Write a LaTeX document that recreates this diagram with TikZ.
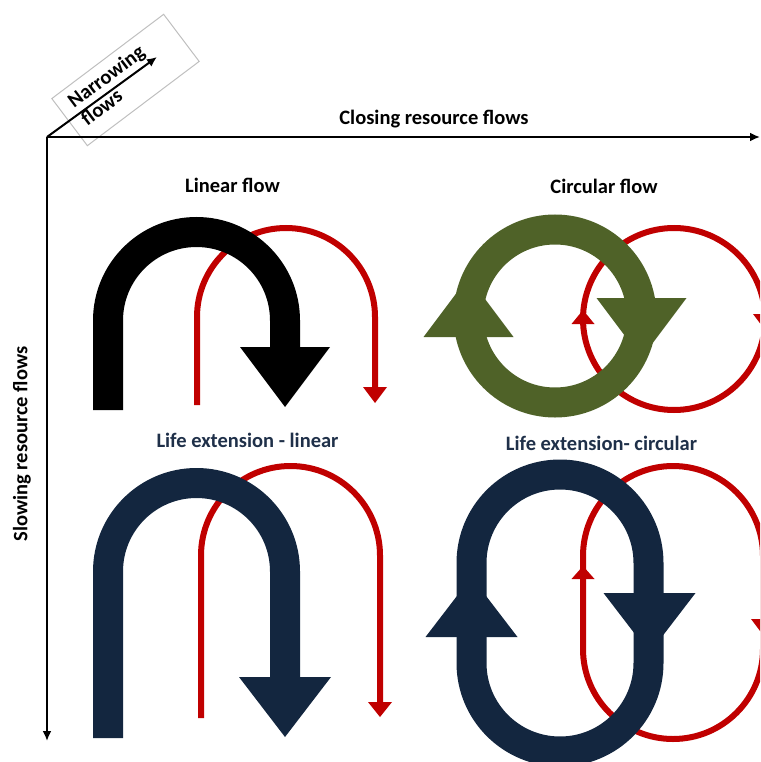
\documentclass[tikz,border=0pt]{standalone}
\usepackage{fontspec}
\setmainfont{Carlito}
\usetikzlibrary{arrows.meta}

\definecolor{navyflow}{HTML}{13263F}
\definecolor{navytext}{HTML}{1F3049}
\definecolor{greenflow}{HTML}{4F6228}
\definecolor{redflow}{HTML}{C00000}
\definecolor{boxgray}{HTML}{BFBFBF}

\begin{document}
\begin{tikzpicture}[x=1pt,y=-1pt,
	axis/.style={line width=2.4pt,-{Latex[length=10pt,width=9pt]}},
	heading/.style={font=\bfseries\fontsize{20.5}{22}\selectfont,inner sep=0pt},
	subheading/.style={heading,text=navytext},
	bigflow/.style={line width=30pt},
	thinflow/.style={line width=6pt,draw=redflow}]
	\useasboundingbox (0,0) rectangle (760,762);
	\clip (0,0) rectangle (760,762);

	% axes
	\coordinate (origin) at (47,137);
	\coordinate (closeend) at (760,137);
	\coordinate (slowend) at (47,741);
	\coordinate (narrowend) at (157,57);
	\node[draw=boxgray,line width=1pt,minimum width=140pt,minimum height=59pt,rotate=37] (narrowbox) at (125.5,80) {};
	\draw[axis] (origin) -- (closeend);
	\draw[axis] (origin) -- (slowend);
	\draw[axis,line width=2pt] (origin) -- (narrowend);
	\node[heading,rotate=37,align=left] (narrowing) at (112.5,85) {Narrowing\\flows};
	\node[heading] (closing) at (434,119) {Closing resource flows};
	\node[heading,rotate=90] (slowing) at (22,444) {Slowing resource flows};

	% titles
	\node[heading] (linear) at (232.5,185) {Linear flow};
	\node[heading] (circular) at (604,186) {Circular flow};
	\node[subheading] (lifelinear) at (247.5,440) {Life extension - linear};
	\node[subheading] (lifecircular) at (601.5,443) {Life extension- circular};

	% linear flow
	\draw[thinflow] (197,405) -- (197,317) arc[start angle=180,end angle=360,radius=89] -- (375,387);
	\fill[redflow] (363,387) -- (387,387) -- (375,403) -- cycle;
	\draw[bigflow,black] (108,410) -- (108,320.5) arc[start angle=180,end angle=360,radius=88.5] -- (285,347);
	\fill[black] (240,347) -- (330,347) -- (285,407) -- cycle;

	% circular flow
	\draw[thinflow] (674,319) circle[radius=91];
	\fill[redflow] (571.5,324) -- (594.5,324) -- (583,310) -- cycle;
	\fill[redflow] (753,314) -- (777,314) -- (765,330) -- cycle;
	\draw[bigflow,greenflow] (555,316) circle[radius=86.5];
	\fill[greenflow] (423.5,337) -- (513.5,337) -- (468.5,277) -- cycle;
	\fill[greenflow] (596.5,298) -- (686.5,298) -- (641.5,358) -- cycle;

	% life extension - linear
	\draw[thinflow] (201,718) -- (201,555.5) arc[start angle=180,end angle=360,radius=89.5] -- (380,702);
	\fill[redflow] (368,702) -- (392,702) -- (380,717) -- cycle;
	\draw[bigflow,navyflow] (108,738) -- (108,571.5) arc[start angle=180,end angle=360,radius=88.5] -- (285,677);
	\fill[navyflow] (239,677) -- (331,677) -- (285,737) -- cycle;

	% life extension - circular
	\draw[thinflow] (583,649) -- (583,556) arc[start angle=180,end angle=360,radius=90] -- (763,649) arc[start angle=0,end angle=180,radius=90] -- cycle;
	\fill[redflow] (571.5,579) -- (594.5,579) -- (583,566) -- cycle;
	\fill[redflow] (751,619) -- (775,619) -- (763,635) -- cycle;
	\draw[bigflow,navyflow] (471.5,663) -- (471.5,563) arc[start angle=180,end angle=360,radius=88.5] -- (648.5,663) arc[start angle=0,end angle=180,radius=88.5] -- cycle;
	\fill[navyflow] (425.5,637) -- (517.5,637) -- (471.5,577) -- cycle;
	\fill[navyflow] (603.5,593) -- (695.5,593) -- (649.5,653) -- cycle;
\end{tikzpicture}
\end{document}
